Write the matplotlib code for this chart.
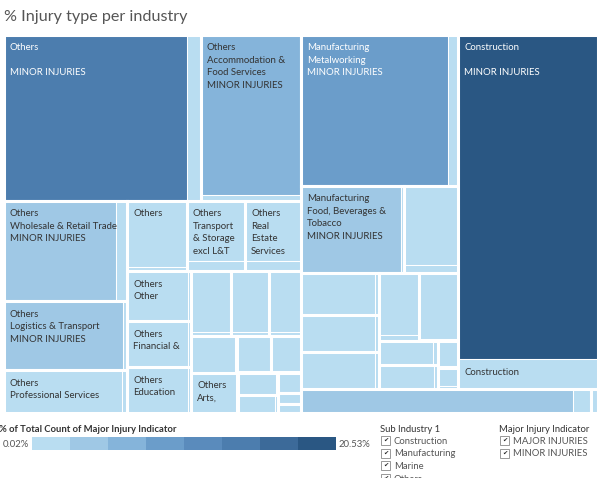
import matplotlib
matplotlib.use('Agg')
import matplotlib.pyplot as plt
from matplotlib.patches import Rectangle

plt.rcParams['font.family'] = ['Lato', 'DejaVu Sans']

# ---------------- data (% of total count) ----------------
sub_industry_1 = (['Others'] * 23 + ['Manufacturing'] * 12 + ['Construction'] + ['Marine'] * 2)
sub_industry_2 = [
    '', 'Accommodation & Food Services', 'Wholesale & Retail Trade', 'Logistics & Transport',
    'Professional Services', 'Unspecified', 'Transport & Storage excl L&T', 'Real Estate Services',
    'Other', 'Financial & Insurance Services', 'Education', 'Health & Social Services',
    'Information & Communications', 'Public Administration & Defence',
    'Administrative & Support Services', 'Community & Personal Services',
    'Water Supply & Waste Management', 'Arts, Entertainment & Recreation', 'Electricity & Gas',
    'Agriculture & Fishing', 'Mining & Quarrying', 'Security Services', 'Landscape',
    'Metalworking', 'Food, Beverages & Tobacco', 'Chemicals', 'Electronics', 'Plastics & Rubber',
    'Printing', 'Wood & Furniture', 'Textiles', 'Paper', 'Pharmaceuticals', 'Petroleum',
    'Other Manufacturing',
    '',
    'Shipbuilding & Repair', 'Marine Other']
minor_pct = [13.80, 7.32, 5.14, 3.75, 2.25, 1.80, 1.60, 1.53, 1.38, 1.26, 1.25, 1.10, 1.05, 0.87,
             0.72, 0.53, 0.47, 0.80, 0.39, 0.29, 0.20, 0.11, 0.08,
             10.08, 3.97, 1.94, 1.43, 1.25, 1.22, 1.14, 1.18, 0.59, 0.60, 0.23, 0.16,
             20.53,
             2.93, 0.06]
major_pct = [1.02, 0.25, 0.50, 0.13, 0.11, 0.11, 0.28, 0.27, 0.07, 0.07, 0.06, 0.08, 0.07, 0.06,
             0.04, 0.03, 0.03, 0.04, 0.02, 0.02, 0.01, 0.01, 0.005,
             0.72, 0.12, 0.20, 0.07, 0.06, 0.06, 0.10, 0.04, 0.05, 0.05, 0.02, 0.03,
             1.85,
             0.20, 0.005]
# labels as displayed (text that fits in each cell)
minor_label = {0: ['Others', '', 'MINOR INJURIES'],
               1: ['Others', 'Accommodation &', 'Food Services', 'MINOR INJURIES'],
               2: ['Others', 'Wholesale & Retail Trade', 'MINOR INJURIES'],
               3: ['Others', 'Logistics & Transport', 'MINOR INJURIES'],
               4: ['Others', 'Professional Services'],
               5: ['Others'],
               6: ['Others', 'Transport', '& Storage', 'excl L&T'],
               7: ['Others', 'Real', 'Estate', 'Services'],
               8: ['Others', 'Other'],
               9: ['Others', 'Financial &'],
               10: ['Others', 'Education'],
               17: ['Others', 'Arts,'],
               23: ['Manufacturing', 'Metalworking', 'MINOR INJURIES'],
               24: ['Manufacturing', 'Food, Beverages &', 'Tobacco', 'MINOR INJURIES'],
               35: ['Construction', '', 'MINOR INJURIES']}
major_label = {35: ['Construction']}
legend_min, legend_max = 0.02, 20.53
sub1_filter = ['Construction', 'Manufacturing', 'Marine', 'Others']
injury_filter = ['MAJOR INJURIES', 'MINOR INJURIES']

# ---------------- layout structure ----------------
split_dir = ['h', 'v', 'h', 'h', 'h', 'v', 'v', 'v', 'h', 'h', 'h', 'v', 'v', 'v', 'h', 'v', 'v',
             'h', 'h', 'h', 'v', 'v', 'v',
             'h', 'h', 'v', 'h', 'h', 'h', 'v', 'v', 'h', 'h', 'v', 'v',
             'v', 'h', 'h']
others_tree = ('v', [('h', [0, 1]),
                     ('h', [('v', [2, 3, 4]),
                            ('v', [('h', [5, 6, 7]),
                                   ('h', [('v', [8, 9, 10]),
                                          ('v', [('h', [11, 12, 13]),
                                                 ('h', [14, 15, 16]),
                                                 ('h', [17, ('v', [18, 19]), ('v', [20, 21, 22])])])])])])])
manuf_tree = ('v', [23, ('h', [24, 25]),
                    ('h', [('v', [26, 27, 28]),
                           ('v', [('h', [29, 30]), ('h', [('v', [31, 32]), ('v', [33, 34])])])])])
root = ('h', [others_tree, ('v', [('h', [manuf_tree, 35]), ('h', [36, 37])])])

palette = ['#b9ddf1', '#9fc8e5', '#85b4da', '#6b9dca', '#5a8bbc', '#4c7dae', '#3c6a99', '#2a5783']


def weight(node):
    if isinstance(node, int):
        return minor_pct[node] + major_pct[node]
    return sum(weight(c) for c in node[1])


def layout(node, x0, y0, x1, y1, out):
    if isinstance(node, int):
        out[node] = (x0, y0, x1, y1)
        return
    d, kids = node
    tot = sum(weight(k) for k in kids)
    pos = x0 if d == 'h' else y0
    for k in kids:
        f = weight(k) / tot
        if d == 'h':
            nxt = pos + (x1 - x0) * f
            layout(k, pos, y0, nxt, y1, out)
        else:
            nxt = pos + (y1 - y0) * f
            layout(k, x0, pos, x1, nxt, out)
        pos = nxt


def color_of(v):
    b = int((v - legend_min) / (legend_max - legend_min) * 8)
    return min(max(b, 0), 7)


fig = plt.figure(figsize=(6.0, 4.78), dpi=100)
ax = fig.add_axes([0, 0, 1, 1])
ax.set_xlim(0, 600)
ax.set_ylim(478, 0)
ax.axis('off')

rects = {}
layout(root, 4.0, 34.5, 597.5, 412.5, rects)

for i, (x0, y0, x1, y1) in rects.items():
    w = minor_pct[i] + major_pct[i]
    f = minor_pct[i] / w
    if split_dir[i] == 'h':
        xm = x0 + (x1 - x0) * f
        cells = [(x0, y0, xm, y1, minor_pct[i], minor_label.get(i)),
                 (xm, y0, x1, y1, major_pct[i], major_label.get(i))]
    else:
        ym = y0 + (y1 - y0) * f
        cells = [(x0, y0, x1, ym, minor_pct[i], minor_label.get(i)),
                 (x0, ym, x1, y1, major_pct[i], major_label.get(i))]
    for (a, b, c, d, v, lab) in cells:
        bi = color_of(v)
        ax.add_patch(Rectangle((a, b), c - a, d - b, facecolor=palette[bi],
                               edgecolor='white', linewidth=0.75))
        if lab:
            tc = 'white' if bi >= 3 else '#333333'
            for k, line in enumerate(lab):
                ax.text(a + 6, b + 15.5 + k * 12.5, line, fontsize=6.9, color=tc,
                        ha='left', va='baseline')
    ax.add_patch(Rectangle((x0, y0), x1 - x0, y1 - y0, facecolor='none',
                           edgecolor='white', linewidth=2.2))

# title
ax.text(4, 20.5, '% Injury type per industry', fontsize=11.6, color='#555555',
        ha='left', va='baseline')

# colour legend
ax.text(-1, 432, '% of Total Count of Major Injury Indicator', fontsize=6.8,
        fontweight='bold', color='#333333', ha='left', va='baseline')
bx0, bx1 = 32, 336
seg = (bx1 - bx0) / len(palette)
for k, c in enumerate(palette):
    ax.add_patch(Rectangle((bx0 + k * seg, 437), seg, 13, facecolor=c, edgecolor='none'))
ax.text(29, 447, f'{legend_min:.2f}%', fontsize=6.8, color='#555555', ha='right', va='baseline')
ax.text(339, 447, f'{legend_max:.2f}%', fontsize=6.8, color='#555555', ha='left', va='baseline')


def checklist(x, title, items):
    ax.text(x, 432, title, fontsize=6.8, color='#333333', ha='left', va='baseline')
    for k, it in enumerate(items):
        yb = 444 + k * 12.5
        ax.add_patch(Rectangle((x + 1, yb - 8), 9, 9, facecolor='white',
                               edgecolor='#888888', linewidth=0.6))
        ax.text(x + 5.5, yb - 3.5, '\u2714', fontsize=4.5, color='#222222',
                ha='center', va='center', family='DejaVu Sans')
        ax.text(x + 14, yb, it, fontsize=6.8, color='#555555', ha='left', va='baseline')


checklist(380, 'Sub Industry 1', sub1_filter)
checklist(499, 'Major Injury Indicator', injury_filter)

fig.savefig('out.png', dpi=100)
